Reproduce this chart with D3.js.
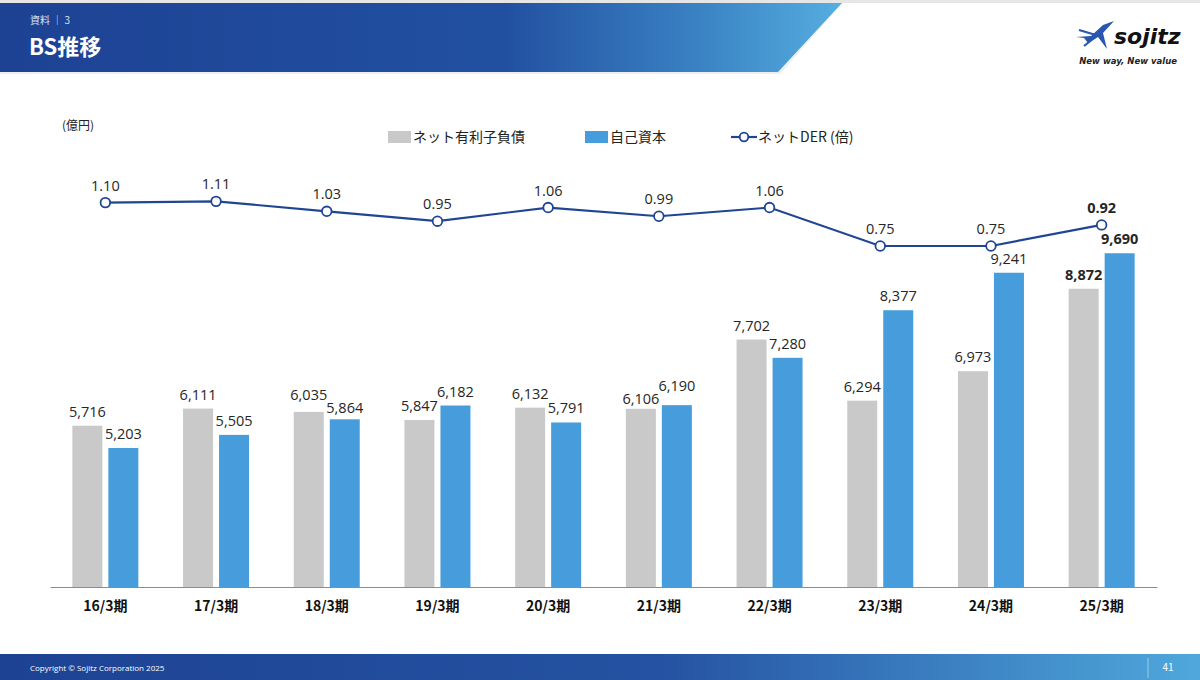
<!DOCTYPE html>
<html>
<head>
<meta charset="utf-8">
<script src="https://cdn.jsdelivr.net/npm/d3@7"></script>
<style>
  body { margin: 0; background: #fff; }
  svg { display: block; font-family: "Noto Sans CJK JP", "Noto Sans", sans-serif; }
</style>
</head>
<body>
<div id="graf"></div>
<script>
// datos del gráfico
const periodos = ["16/3期", "17/3期", "18/3期", "19/3期", "20/3期", "21/3期", "22/3期", "23/3期", "24/3期", "25/3期"];
const deuda = [5716, 6111, 6035, 5847, 6132, 6106, 7702, 6294, 6973, 8872];   // ネット有利子負債
const capital = [5203, 5505, 5864, 6182, 5791, 6190, 7280, 8377, 9241, 9690]; // 自己資本
const der = [1.10, 1.11, 1.03, 0.95, 1.06, 0.99, 1.06, 0.75, 0.75, 0.92];     // ネットDER
const leyenda = ["ネット有利子負債", "自己資本", "ネットDER (倍)"];

const W = 1200, H = 680;
const colGris = "#c9c9c9", colAzul = "#479ddb", colLinea = "#1f4593";
const fuenteNum = "'Open Sans', 'Noto Sans', sans-serif";

const svg = d3.select("#graf").append("svg").attr("width", W).attr("height", H);
const defs = svg.append("defs");

// cabecera
const gCab = defs.append("linearGradient").attr("id", "gcab");
gCab.append("stop").attr("offset", "0").attr("stop-color", "#1d4294");
gCab.append("stop").attr("offset", "0.6").attr("stop-color", "#2250a1");
gCab.append("stop").attr("offset", "0.83").attr("stop-color", "#3a82c3");
gCab.append("stop").attr("offset", "1").attr("stop-color", "#55aee0");
svg.append("rect").attr("x", 0).attr("y", 0).attr("width", W).attr("height", 3).attr("fill", "#e6e6e6");
svg.append("polygon").attr("points", "0,74 780,74 842,3 0,3").attr("fill", "#eeeeee");
svg.append("polygon").attr("points", "0,3 842,3 778,72 0,72").attr("fill", "url(#gcab)");
svg.append("text").attr("x", 30).attr("y", 24).attr("fill", "#d8e2f3").attr("font-size", 10).text("資料 ｜ 3");
svg.append("text").attr("x", 29).attr("y", 55).attr("fill", "#fff").attr("font-size", 22)
  .attr("font-weight", "bold").text("BS推移");

// logo
const logo = svg.append("g").attr("transform", "translate(1076,24)");
logo.append("path").attr("d", "M0,13 L15,12 L27,1 L38,-3 L27,9 L31,25 L22,13 L12,19 L8,14 Z").attr("fill", "#2a56b0");
logo.append("path").attr("d", "M3,6 L20,11 M8,22 L22,11").attr("stroke", "#2a56b0").attr("stroke-width", 2.2);
svg.append("text").attr("x", 1114).attr("y", 44).attr("font-size", 22).attr("font-weight", "bold")
  .attr("font-style", "italic").attr("font-family", "DejaVu Sans").attr("fill", "#111").text("sojitz");
svg.append("text").attr("x", 1177).attr("y", 64).attr("text-anchor", "end").attr("font-size", 8.5)
  .attr("font-weight", "bold").attr("font-style", "italic").attr("font-family", "DejaVu Sans").attr("fill", "#222")
  .text("New way, New value");

// pie de página
const gPie = defs.append("linearGradient").attr("id", "gpie");
gPie.append("stop").attr("offset", "0").attr("stop-color", "#1d4294");
gPie.append("stop").attr("offset", "0.55").attr("stop-color", "#2552a2");
gPie.append("stop").attr("offset", "1").attr("stop-color", "#4fa8dc");
svg.append("rect").attr("x", 0).attr("y", 654).attr("width", W).attr("height", 26).attr("fill", "url(#gpie)");
svg.append("text").attr("x", 30).attr("y", 671).attr("fill", "#fff").attr("font-size", 8).attr("font-family", "Open Sans")
  .text("Copyright © Sojitz Corporation 2025");
svg.append("line").attr("x1", 1148).attr("x2", 1148).attr("y1", 658).attr("y2", 678).attr("stroke", "#9fc9ea");
svg.append("text").attr("x", 1168).attr("y", 671).attr("text-anchor", "middle").attr("fill", "#fff").attr("font-size", 10).text("41");

// escalas
const base = 587;
const x = d3.scaleBand().domain(periodos).range([50, 1157]);
const y = d3.scaleLinear().domain([2000, 12000]).range([base, 153]);
const y2 = d3.scaleLinear().domain([-2, 1.5]).range([base, 153]);
const anchoBarra = 30, hueco = 6;
const fmt = d3.format(",");
const ultimo = periodos.length - 1;

// posiciones de las etiquetas, separadas si se solapan
const etiq = periodos.map((p, i) => {
  let a = y(deuda[i]) - 9, b = y(capital[i]) - 9;
  if (Math.abs(a - b) < 13) {
    const m = (a + b) / 2, s = a < b ? -1 : 1;
    a = m + s * 6.5; b = m - s * 6.5;
  }
  return { a, b };
});

// barras
const grupos = svg.append("g").selectAll("g").data(periodos).join("g")
  .attr("transform", d => `translate(${x(d) + x.bandwidth() / 2},0)`);

grupos.append("rect")
  .attr("x", -anchoBarra - hueco / 2).attr("width", anchoBarra)
  .attr("y", (d, i) => y(deuda[i])).attr("height", (d, i) => base - y(deuda[i]))
  .attr("fill", colGris);
grupos.append("rect")
  .attr("x", hueco / 2).attr("width", anchoBarra)
  .attr("y", (d, i) => y(capital[i])).attr("height", (d, i) => base - y(capital[i]))
  .attr("fill", colAzul);

grupos.append("text")
  .attr("x", -anchoBarra / 2 - hueco / 2).attr("y", (d, i) => etiq[i].a)
  .attr("text-anchor", "middle").attr("font-size", 14.5).attr("font-family", fuenteNum)
  .attr("font-weight", (d, i) => i === ultimo ? "bold" : "normal").attr("fill", "#262626")
  .text((d, i) => fmt(deuda[i]));
grupos.append("text")
  .attr("x", anchoBarra / 2 + hueco / 2).attr("y", (d, i) => etiq[i].b)
  .attr("text-anchor", "middle").attr("font-size", 14.5).attr("font-family", fuenteNum)
  .attr("font-weight", (d, i) => i === ultimo ? "bold" : "normal").attr("fill", "#262626")
  .text((d, i) => fmt(capital[i]));

// eje x
const xAxis = d3.axisBottom(x).tickSize(0).tickPadding(14);
const ejeX = svg.append("g").attr("transform", `translate(0,${base})`).call(xAxis);
ejeX.select(".domain").attr("stroke", "#8c8c8c").attr("stroke-width", 1.2);
ejeX.selectAll("text").attr("font-size", 14).attr("font-weight", "bold").attr("fill", "#111")
  .attr("font-family", "Noto Sans CJK JP");

// línea DER
const cx = (d, i) => x(periodos[i]) + x.bandwidth() / 2;
const linea = d3.line().x(cx).y(d => y2(d));
svg.append("path").datum(der).attr("d", linea).attr("fill", "none")
  .attr("stroke", colLinea).attr("stroke-width", 2.2);
svg.append("g").selectAll("circle").data(der).join("circle")
  .attr("cx", cx).attr("cy", d => y2(d)).attr("r", 4.8)
  .attr("fill", "#fff").attr("stroke", colLinea).attr("stroke-width", 1.8);
svg.append("g").selectAll("text").data(der).join("text")
  .attr("x", cx).attr("y", d => y2(d) - 12).attr("text-anchor", "middle").attr("font-size", 14.5)
  .attr("font-family", fuenteNum)
  .attr("font-weight", (d, i) => i === ultimo ? "bold" : "normal").attr("fill", "#262626")
  .text(d => d.toFixed(2));

// unidad
svg.append("text").attr("x", 62).attr("y", 130).attr("font-size", 12).attr("fill", "#222").text("(億円)");

// leyenda
const ley = svg.append("g").attr("font-size", 14).attr("fill", "#222");
ley.append("rect").attr("x", 388).attr("y", 131).attr("width", 23).attr("height", 12).attr("fill", colGris);
ley.append("text").attr("x", 413).attr("y", 142).text(leyenda[0]);
ley.append("rect").attr("x", 585).attr("y", 131).attr("width", 23).attr("height", 12).attr("fill", colAzul);
ley.append("text").attr("x", 610).attr("y", 142).text(leyenda[1]);
ley.append("line").attr("x1", 731).attr("x2", 757).attr("y1", 137).attr("y2", 137)
  .attr("stroke", colLinea).attr("stroke-width", 2.2);
ley.append("circle").attr("cx", 744).attr("cy", 137).attr("r", 4.3)
  .attr("fill", "#fff").attr("stroke", colLinea).attr("stroke-width", 1.8);
ley.append("text").attr("x", 758).attr("y", 142).text(leyenda[2]);
</script>
</body>
</html>
